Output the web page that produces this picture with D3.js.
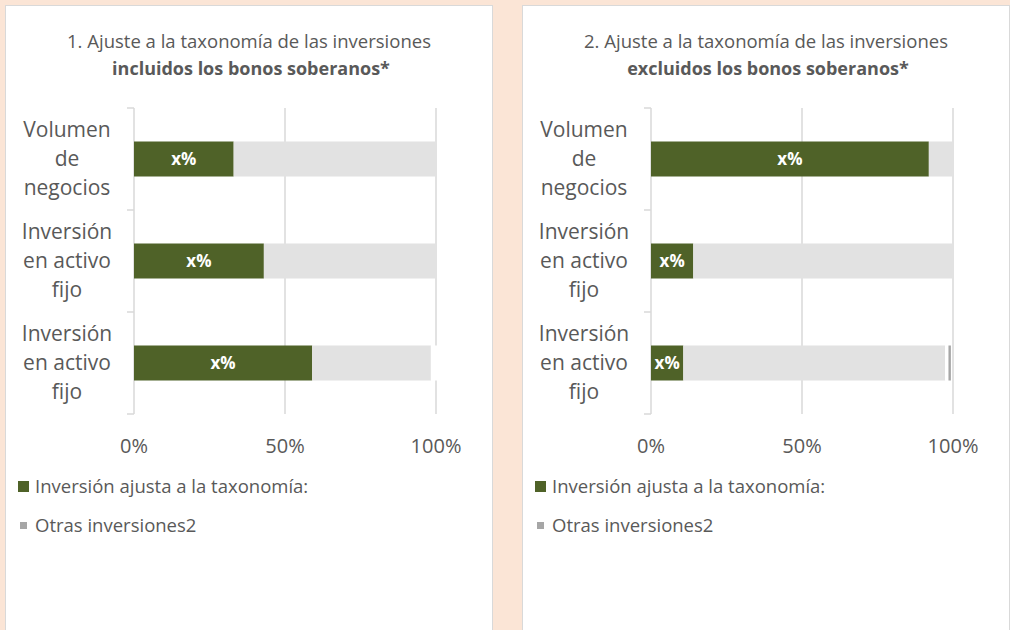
<!DOCTYPE html>
<html lang="es">
<head>
<meta charset="utf-8">
<title>Ajuste a la taxonomía de las inversiones</title>
<script src="https://cdn.jsdelivr.net/npm/d3@7"></script>
<style>
  body { margin: 0; background: #fbe5d6; }
  svg { display: block; font-family: "Open Sans", sans-serif; }
</style>
</head>
<body>
<svg id="chart"></svg>
<script>
// categories (line breaks with "|")
const categorias = ["Volumen|de|negocios", "Inversión|en activo|fijo", "Inversión|en activo|fijo"];
const ticks = [0, 0.5, 1];
const leyenda = ["Inversión ajusta a la taxonomía:", "Otras inversiones2"];

// panel 1: incluidos los bonos soberanos
const ajustada1 = [0.33, 0.43, 0.59];
const otras1    = [0.67, 0.57, 0.393];
const hueco1    = [0, 0, 0.03];
const marca1    = [0, 0, 0];

// panel 2: excluidos los bonos soberanos
const ajustada2 = [0.92, 0.14, 0.107];
const otras2    = [0.08, 0.86, 0.867];
const hueco2    = [0, 0, 0.011];
const marca2    = [0, 0, 0.008];

const width = 1010, height = 630;
const verde = "#4f6228", gris = "#e2e2e2", grisOscuro = "#a6a6a6", texto = "#595959";

const svg = d3.select("#chart").attr("width", width).attr("height", height);

function panel(left, titulo1, titulo2, ajustada, otras, hueco, marca) {
  const g = svg.append("g").attr("transform", `translate(${left},0)`);

  g.append("rect")
    .attr("x", 0.5).attr("y", 5.5)
    .attr("width", 487).attr("height", 640)
    .attr("fill", "#fff").attr("stroke", "#d9d9d9");

  g.append("text").attr("x", 244).attr("y", 48)
    .attr("text-anchor", "middle").attr("fill", texto)
    .style("font-size", "18.5px").text(titulo1);
  g.append("text").attr("x", 246).attr("y", 75)
    .attr("text-anchor", "middle").attr("fill", texto)
    .style("font-size", "18px").style("font-weight", "bold").text(titulo2);

  const x = d3.scaleLinear().domain([0, 1]).range([129, 431]);
  const y = d3.scaleBand().domain(d3.range(categorias.length)).range([108, 414]).paddingInner(0).paddingOuter(0);
  const barH = 35;

  // grid lines
  g.append("g").selectAll("line")
    .data(ticks.slice(1))
    .join("line")
    .attr("x1", d => x(d)).attr("x2", d => x(d))
    .attr("y1", y.range()[0]).attr("y2", y.range()[1])
    .attr("stroke", "#d9d9d9").attr("stroke-width", 1.5);

  // category axis
  const yAxis = g.append("g").attr("transform", `translate(${x(0)},0)`);
  yAxis.append("line")
    .attr("y1", y.range()[0]).attr("y2", y.range()[1])
    .attr("stroke", "#d9d9d9").attr("stroke-width", 1.5);
  yAxis.selectAll("line.tick")
    .data(d3.range(categorias.length + 1))
    .join("line").attr("class", "tick")
    .attr("x1", -7).attr("x2", 0)
    .attr("y1", d => y.range()[0] + d * y.step()).attr("y2", d => y.range()[0] + d * y.step())
    .attr("stroke", "#d9d9d9").attr("stroke-width", 1.5);

  const lab = g.append("g").selectAll("text")
    .data(categorias)
    .join("text")
    .attr("text-anchor", "middle").attr("fill", texto)
    .style("font-size", "21px");
  lab.each(function(d, i) {
    const lines = d.split("|");
    const cy = y(i) + y.bandwidth() / 2;
    d3.select(this).selectAll("tspan")
      .data(lines)
      .join("tspan")
      .attr("x", x(0) - 67)
      .attr("y", (l, j) => cy + 7 + (j - 1) * 29)
      .text(l => l);
  });

  // stacked bars
  const series = [
    { vals: ajustada, fill: verde },
    { vals: otras, fill: gris },
    { vals: hueco, fill: "#fff" },
    { vals: marca, fill: grisOscuro }
  ];
  const rows = categorias.map((c, i) => {
    let acc = 0;
    return series.map(s => {
      const seg = { i, x0: acc, x1: acc + s.vals[i], fill: s.fill };
      acc += s.vals[i];
      return seg;
    });
  });

  g.append("g").selectAll("g")
    .data(rows)
    .join("g")
    .selectAll("rect")
    .data(d => d.filter(s => s.x1 > s.x0))
    .join("rect")
    .attr("x", d => x(d.x0))
    .attr("width", d => x(d.x1) - x(d.x0))
    .attr("y", d => y(d.i) + (y.bandwidth() - barH) / 2)
    .attr("height", barH)
    .attr("fill", d => d.fill);

  // data labels
  g.append("g").selectAll("text")
    .data(ajustada)
    .join("text")
    .attr("x", d => x(d / 2))
    .attr("y", (d, i) => y(i) + y.bandwidth() / 2 + 6)
    .attr("text-anchor", "middle")
    .attr("fill", "#fff").style("font-weight", "bold").style("font-size", "17px")
    .text("x%");

  // x axis labels
  g.append("g").selectAll("text")
    .data(ticks)
    .join("text")
    .attr("x", d => x(d)).attr("y", 453)
    .attr("text-anchor", "middle").attr("fill", texto)
    .style("font-size", "20px")
    .text(d3.format(".0%"));

  // legend
  const leg = g.append("g");
  leg.append("rect").attr("x", 13).attr("y", 481).attr("width", 11).attr("height", 11).attr("fill", verde);
  leg.append("rect").attr("x", 15).attr("y", 522).attr("width", 7).attr("height", 7).attr("fill", grisOscuro);
  leg.selectAll("text")
    .data(leyenda)
    .join("text")
    .attr("x", 30).attr("y", (d, i) => 493 + i * 39)
    .attr("fill", texto).style("font-size", "18.5px")
    .text(d => d);
}

panel(5, "1. Ajuste a la taxonomía de las inversiones", "incluidos los bonos soberanos*",
  ajustada1, otras1, hueco1, marca1);
panel(522, "2. Ajuste a la taxonomía de las inversiones", "excluidos los bonos soberanos*",
  ajustada2, otras2, hueco2, marca2);
</script>
</body>
</html>
